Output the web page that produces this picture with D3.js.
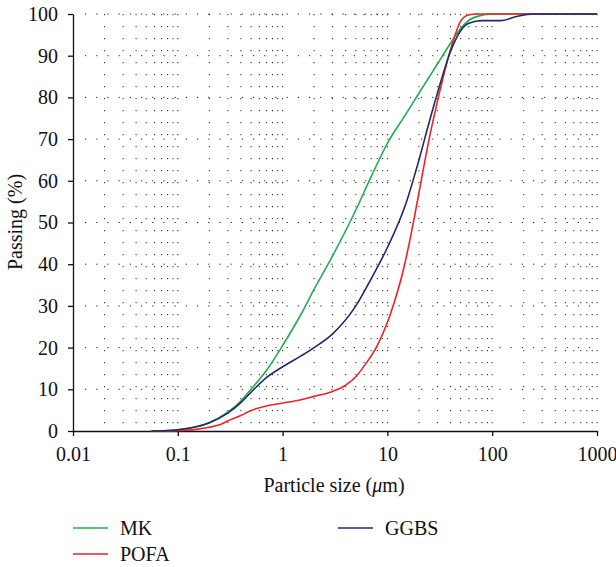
<!DOCTYPE html>
<html><head><meta charset="utf-8">
<script src="https://cdn.jsdelivr.net/npm/d3@7"></script>
<style>body{margin:0;background:#fff}svg{display:block}text{font-family:"Liberation Serif","Times New Roman",serif;fill:#111}</style>
</head><body>
<script>
const xTicks = [0.01, 0.1, 1, 10, 100, 1000];
const xTickLabels = ["0.01", "0.1", "1", "10", "100", "1000"];
const yTicks = [0, 10, 20, 30, 40, 50, 60, 70, 80, 90, 100];

const mkSize   = [0.056, 0.08, 0.1, 0.15, 0.2, 0.3, 0.4, 0.5, 0.7, 1, 1.5, 2, 3, 5, 7, 10, 15, 20, 30, 40, 50, 60, 80, 100, 1000];
const mkPass   = [0, 0.1, 0.3, 1.0, 2.0, 4.5, 7.2, 10.0, 14.5, 20.5, 28, 34, 42, 53, 61, 69, 76, 81, 88, 93, 96.5, 98.5, 99.7, 100, 100];
const pofaSize = [0.056, 0.1, 0.15, 0.2, 0.25, 0.3, 0.4, 0.5, 0.7, 1, 1.5, 2, 3, 4, 5, 6, 8, 10, 12, 14, 16, 18, 21, 25, 30, 35, 40, 45, 50, 60, 70, 1000];
const pofaPass = [0, 0.1, 0.4, 0.9, 1.5, 2.4, 3.7, 4.9, 6.0, 6.7, 7.5, 8.3, 9.5, 11, 13, 15.6, 20.5, 26, 32, 38, 44.5, 51, 60, 70, 79, 86, 91.5, 95.5, 98.3, 99.8, 100, 100];
const ggbsSize = [0.056, 0.08, 0.1, 0.15, 0.2, 0.3, 0.4, 0.5, 0.7, 1, 1.5, 2, 3, 5, 7, 10, 15, 20, 25, 30, 40, 50, 60, 80, 120, 170, 250, 1000];
const ggbsPass = [0, 0.1, 0.3, 1.0, 2.0, 4.3, 6.8, 9.3, 12.8, 15.4, 18, 20, 23.3, 30, 36.5, 44, 54.5, 65, 74, 81, 91, 96, 97.8, 98.4, 98.4, 99.4, 100, 100];

const seriesNames = ["MK", "POFA", "GGBS"];
const seriesColors = ["#23ad4f", "#ee2229", "#1e2a68"];

const W = 616, H = 567;
const svg = d3.select("body").append("svg").attr("width", W).attr("height", H);
const x = d3.scaleLog().domain([0.01, 1000]).range([73, 597]);
const y = d3.scaleLinear().domain([0, 100]).range([431, 14]);

// grid
const minor = [];
for (let d = 0.01; d < 1000; d *= 10) for (let k = 2; k <= 10; k++) minor.push(+(d * k).toPrecision(3));
const grid = svg.append("g");
grid.selectAll("line.v").data(minor).join("line").attr("class", "v")
  .attr("x1", d => x(d)).attr("x2", d => x(d)).attr("y1", y(100)).attr("y2", y(0))
  .attr("stroke", "#222").attr("stroke-width", 1).attr("stroke-dasharray", "1.2,10.8");
grid.selectAll("line.h").data(yTicks.slice(1)).join("line").attr("class", "h")
  .attr("x1", x(0.01) + 12).attr("x2", x(1000)).attr("y1", d => y(d)).attr("y2", d => y(d))
  .attr("stroke", "#222").attr("stroke-width", 1).attr("stroke-dasharray", "1.2,10");

// axes
const xAxis = svg.append("g").attr("transform", `translate(0,${y(0)})`)
  .call(d3.axisBottom(x).tickValues(xTicks).tickFormat((d, i) => xTickLabels[i]).tickSize(5).tickPadding(11).tickSizeOuter(0));
const yAxis = svg.append("g").attr("transform", `translate(${x(0.01)},0)`)
  .call(d3.axisLeft(y).tickValues(yTicks).tickSize(5).tickPadding(10).tickSizeOuter(0));
[xAxis, yAxis].forEach(g => {
  g.attr("font-family", null);
  g.select(".domain").attr("stroke", "#111").attr("stroke-width", 1.3);
  g.selectAll(".tick line").attr("stroke", "#111").attr("stroke-width", 1.3);
  g.selectAll("text").style("font-size", "20px").attr("fill", "#111");
});

// curves
const line = d3.line().x(d => x(d[0])).y(d => y(d[1])).curve(d3.curveMonotoneX);
const data = [d3.zip(mkSize, mkPass), d3.zip(pofaSize, pofaPass), d3.zip(ggbsSize, ggbsPass)];
svg.append("g").selectAll("path").data(data).join("path")
  .attr("d", line).attr("fill", "none")
  .attr("stroke", (d, i) => seriesColors[i]).attr("stroke-width", 1.6);

// titles
svg.append("text").attr("x", 334).attr("y", 492).attr("text-anchor", "middle").style("font-size", "20px")
  .html('Particle size (<tspan font-style="italic">μ</tspan>m)');
svg.append("text").attr("transform", "translate(22,222) rotate(-90)").attr("text-anchor", "middle").style("font-size", "20px")
  .text("Passing (%)");

// legend
const leg = [{x: 73, y: 528}, {x: 73, y: 554}, {x: 338, y: 528}];
const lg = svg.append("g").selectAll("g").data(seriesNames).join("g")
  .attr("transform", (d, i) => `translate(${leg[i].x},${leg[i].y})`);
lg.append("line").attr("x1", 0).attr("x2", 35).attr("y1", 0).attr("y2", 0)
  .attr("stroke", (d, i) => seriesColors[i]).attr("stroke-width", 1.6);
lg.append("text").attr("x", 47).attr("y", 7).style("font-size", "20px").text(d => d);
</script>
</body></html>
